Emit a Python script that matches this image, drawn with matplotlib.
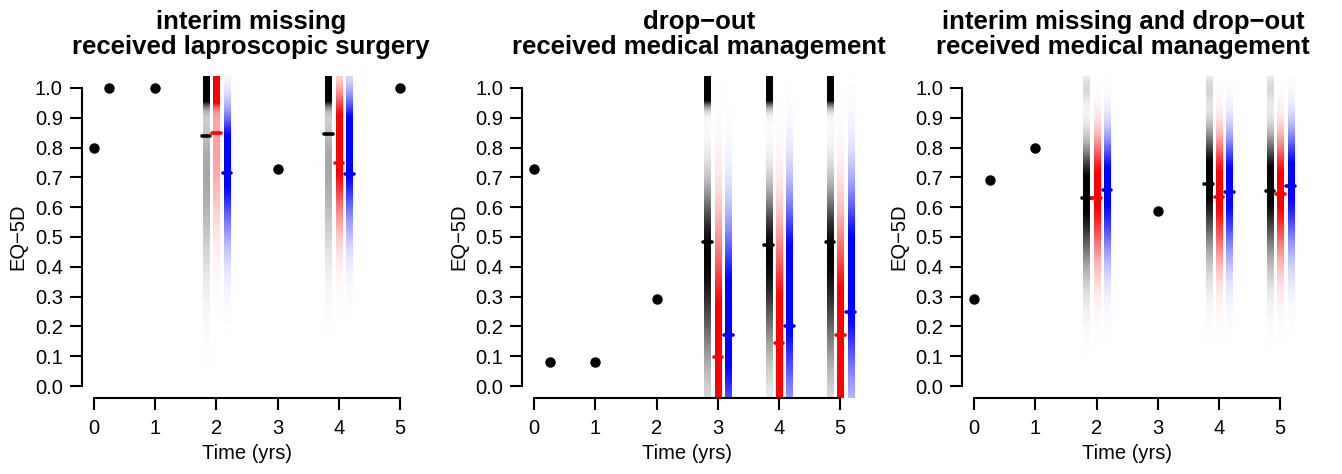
import numpy as np
import matplotlib
matplotlib.use('Agg')
import matplotlib.pyplot as plt

plt.rcParams['font.family'] = ['Liberation Sans', 'DejaVu Sans']

# panel titles (two lines each)
titles = [('interim missing', 'received laproscopic surgery'),
          ('drop\u2212out', 'received medical management'),
          ('interim missing and drop\u2212out', 'received medical management')]

# observed EQ-5D values
obs_t = [[0, 0.25, 1, 3, 5], [0, 0.25, 1, 2], [0, 0.25, 1, 3]]
obs_y = [[0.80, 1.0, 1.0, 0.727, 1.0], [0.727, 0.082, 0.082, 0.292], [0.292, 0.691, 0.799, 0.588]]

# time points with imputed values
miss_t = [[2, 4], [3, 4, 5], [2, 4, 5]]

# mean of imputed values per method (black / red / blue)
mean_black = [[0.839, 0.846], [0.484, 0.473, 0.484], [0.632, 0.677, 0.655]]
mean_red = [[0.848, 0.747], [0.097, 0.145, 0.171], [0.632, 0.635, 0.645]]
mean_blue = [[0.716, 0.710], [0.171, 0.202, 0.250], [0.659, 0.652, 0.671]]

# shape of imputation densities: (mode, sd below, sd above, height, mass at ceiling 1.0)
shape_black = [[(0.72, 0.22, 0.15, 0.35, 2.0), (0.75, 0.20, 0.12, 0.35, 2.0)],
               [(0.45, 0.25, 0.15, 1.0, 2.0), (0.45, 0.22, 0.14, 1.0, 2.0), (0.45, 0.25, 0.15, 1.0, 2.0)],
               [(0.66, 0.17, 0.10, 1.1, 0.15), (0.71, 0.17, 0.10, 1.1, 0.15), (0.69, 0.17, 0.10, 1.1, 0.15)]]
shape_red = [[(0.82, 0.20, 0.15, 0.38, 2.0), (0.84, 0.18, 0.10, 1.3, 0.0)],
             [(0.08, 0.40, 0.28, 1.3, 0.0), (0.12, 0.40, 0.25, 1.3, 0.0), (0.15, 0.40, 0.25, 1.3, 0.0)],
             [(0.67, 0.16, 0.11, 1.1, 0.0), (0.67, 0.16, 0.11, 1.1, 0.0), (0.67, 0.16, 0.11, 1.1, 0.0)]]
shape_blue = [[(0.78, 0.18, 0.10, 1.2, 0.0), (0.83, 0.18, 0.10, 1.3, 0.0)],
              [(0.22, 0.25, 0.22, 1.2, 0.0), (0.35, 0.27, 0.20, 1.2, 0.0), (0.38, 0.25, 0.20, 1.2, 0.0)],
              [(0.68, 0.16, 0.11, 1.1, 0.0), (0.68, 0.16, 0.11, 1.1, 0.0), (0.70, 0.16, 0.11, 1.1, 0.0)]]

methods = [('black', -0.17, mean_black, shape_black),
           ('red', 0.0, mean_red, shape_red),
           ('blue', 0.17, mean_blue, shape_blue)]

W, H = 1342, 474
fig = plt.figure(figsize=(W / 100, H / 100), dpi=100)

XLIM = (-0.2, 5.2)
YLIM = (-0.04, 1.04)
yy = np.linspace(YLIM[0], YLIM[1], 400)


def density_strip(ax, x, shp, color):
    mu, sdl, sdh, amp, ceil = shp
    sd = np.where(yy < mu, sdl, sdh)
    dens = amp * np.exp(-0.5 * ((yy - mu) / sd) ** 2)
    dens = dens + ceil * np.exp(-0.5 * ((yy - 1.0) / 0.035) ** 2)
    img = np.zeros((len(yy), 2, 4))
    img[:, :, :3] = matplotlib.colors.to_rgb(color)
    img[:, :, 3] = np.clip(dens, 0, 1)[:, None]
    ax.imshow(img, extent=[x - 0.05, x + 0.05, YLIM[0], YLIM[1]], origin='lower',
              aspect='auto', interpolation='bilinear', zorder=1, clip_on=False)


lefts = [81.8, 522.0, 962.0]
title_cx = [251, 699, 1123]
aw, top, bot = 330.5, 76.0, 398.0

for p in range(3):
    ax = fig.add_axes([lefts[p] / W, (H - bot) / H, aw / W, (bot - top) / H])

    for color, off, means, shapes in methods:
        for i, t in enumerate(miss_t[p]):
            density_strip(ax, t + off, shapes[p][i], color)
            ax.plot([t + off - 0.07, t + off + 0.07], [means[p][i]] * 2, color=color,
                    lw=2.6, solid_capstyle='round', zorder=3, clip_on=False)

    ax.plot(obs_t[p], obs_y[p], 'o', color='black', ms=6.5, zorder=4, clip_on=False)

    ax.set_xlim(*XLIM)
    ax.set_ylim(*YLIM)
    ax.set_xticks(range(6))
    ax.set_yticks(np.round(np.arange(0, 1.01, 0.1), 1))
    ax.set_yticklabels(['%.1f' % v for v in np.arange(0, 1.01, 0.1)])
    for s in ['top', 'right']:
        ax.spines[s].set_visible(False)
    ax.spines['left'].set_bounds(0, 1)
    ax.spines['bottom'].set_bounds(0, 5)
    for s in ['left', 'bottom']:
        ax.spines[s].set_linewidth(1.5)
    ax.tick_params(axis='both', length=8.7, width=1.5, labelsize=14.5)
    ax.tick_params(axis='x', pad=6.5)
    ax.tick_params(axis='y', pad=5)
    ax.set_xlabel('Time (yrs)', fontsize=14.5, labelpad=4)
    ax.set_ylabel('EQ\u22125D', fontsize=14.5, labelpad=5)

    cx = title_cx[p] / W
    fig.text(cx, (H - 29) / H, titles[p][0], ha='center', va='baseline',
             fontsize=18.5, fontweight='bold')
    fig.text(cx, (H - 54) / H, titles[p][1], ha='center', va='baseline',
             fontsize=18.5, fontweight='bold')

fig.savefig('out.png', dpi=100)
